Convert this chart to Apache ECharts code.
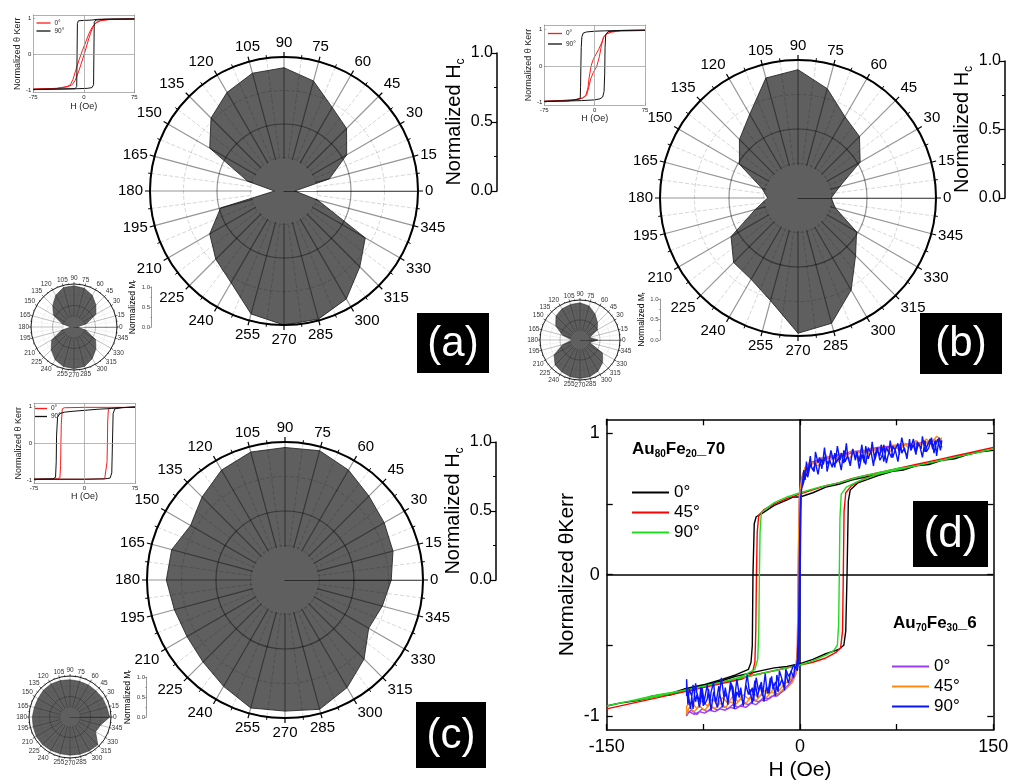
<!DOCTYPE html>
<html>
<head>
<meta charset="utf-8">
<script src="https://cdn.jsdelivr.net/npm/echarts@6/dist/echarts.min.js"></script>
<style>html,body{margin:0;padding:0;background:#fff}#chart{width:1020px;height:784px}</style>
</head>
<body>
<div id="chart"></div>
<script>
const FONT = 'Liberation Sans, Arial, sans-serif';

// ---- angular coercivity / remanence maps ----
const angles = [0,15,30,45,60,75,90,105,120,135,150,165,180,195,210,225,240,255,270,285,300,315,330,345];
const hcA = [0.08,0.35,0.54,0.66,0.72,0.85,0.92,0.91,0.85,0.77,0.64,0.28,0.07,0.49,0.64,0.72,0.79,0.95,1.00,0.99,0.93,0.80,0.70,0.26];
const hcB = [0.24,0.31,0.52,0.63,0.68,0.82,0.93,0.90,0.70,0.60,0.49,0.27,0.22,0.32,0.56,0.66,0.68,0.77,0.98,0.94,0.77,0.59,0.49,0.28];
const hcC = [0.77,0.81,0.83,0.86,0.92,0.97,0.96,0.96,0.92,0.85,0.79,0.85,0.86,0.83,0.82,0.84,0.89,0.96,0.95,0.97,0.90,0.81,0.70,0.73];
const mrA = [0.08,0.30,0.59,0.72,0.85,0.93,0.96,0.95,0.85,0.70,0.55,0.28,0.08,0.30,0.60,0.75,0.88,0.95,0.97,0.95,0.85,0.72,0.58,0.28];
const mrB = [0.45,0.25,0.50,0.62,0.75,0.88,0.93,0.92,0.90,0.85,0.70,0.45,0.20,0.45,0.75,0.88,0.92,0.95,0.96,0.95,0.90,0.80,0.65,0.25];
const mrC = [0.97,0.93,0.92,0.90,0.90,0.90,0.91,0.92,0.93,0.92,0.90,0.90,0.92,0.93,0.95,0.95,0.94,0.93,0.93,0.94,0.95,0.96,0.72,0.77];
const barTicks = [0, 0.5, 1];

// ---- small Kerr loops (H in Oe, normalized Kerr rotation) ----
const loopA0down = [[75,0.97],[50,0.96],[35,0.95],[25,0.92],[18,0.86],[13,0.76],[8,0.58],[3,0.34],[-2,0.1],[-7,-0.16],[-12,-0.45],[-16,-0.7],[-20,-0.85],[-25,-0.9],[-40,-0.95],[-75,-0.97]];
const loopA0up = [[-75,-0.97],[-40,-0.95],[-25,-0.91],[-18,-0.86],[-13,-0.74],[-8,-0.5],[-3,-0.22],[2,0.08],[6,0.34],[10,0.58],[14,0.76],[18,0.87],[25,0.93],[40,0.96],[75,0.97]];
const loopA90down = [[75,0.97],[40,0.97],[20,0.96],[12,0.94],[0,0.93],[-8,0.92],[-9.5,0.85],[-10,0],[-10.5,-0.9],[-13,-0.96],[-40,-0.97],[-75,-0.98]];
const loopA90up = [[-75,-0.98],[-40,-0.97],[-10,-0.96],[5,-0.95],[12,-0.93],[14.5,-0.85],[15,0],[15.5,0.88],[18,0.94],[30,0.96],[75,0.97]];

const loopB0down = [[75,0.97],[40,0.96],[25,0.93],[18,0.88],[14,0.8],[10,0.62],[6,0.45],[2,0.32],[-2,0.18],[-5,0.02],[-8,-0.3],[-10,-0.6],[-13,-0.8],[-18,-0.88],[-30,-0.93],[-75,-0.97]];
const loopB0up = [[-75,-0.97],[-30,-0.93],[-18,-0.88],[-12,-0.8],[-9,-0.6],[-6,-0.36],[-2,-0.18],[3,-0.02],[7,0.25],[10,0.55],[13,0.78],[17,0.87],[25,0.93],[40,0.96],[75,0.97]];
const loopB90down = [[75,0.98],[40,0.97],[15,0.96],[0,0.95],[-12,0.93],[-17,0.9],[-19,0.8],[-20,0.5],[-20.5,0],[-21,-0.6],[-21.5,-0.9],[-24,-0.95],[-40,-0.96],[-75,-0.97]];
const loopB90up = [[-75,-0.97],[-40,-0.96],[-20,-0.95],[0,-0.93],[8,-0.9],[12,-0.85],[14,-0.7],[15,-0.2],[15.5,0.5],[16.5,0.85],[20,0.94],[35,0.97],[75,0.98]];

const loopC0down = [[75,0.97],[0,0.97],[-30,0.96],[-33,0.93],[-34.5,0.5],[-35,0],[-35.5,-0.6],[-36.5,-0.93],[-40,-0.96],[-75,-0.97]];
const loopC0up = [[-75,-0.97],[0,-0.97],[30,-0.96],[32.5,-0.92],[33.5,-0.5],[34,0],[34.5,0.6],[35.5,0.92],[40,0.96],[75,0.97]];
const loopC90down = [[75,0.98],[50,0.96],[40,0.94],[20,0.92],[0,0.89],[-20,0.86],[-30,0.84],[-37,0.8],[-40,0.7],[-41.5,0.2],[-42,-0.5],[-43,-0.92],[-47,-0.96],[-75,-0.97]];
const loopC90up = [[-75,-0.97],[0,-0.97],[30,-0.96],[38,-0.94],[40.5,-0.8],[41.5,0],[42.5,0.8],[45,0.93],[55,0.96],[75,0.98]];

// ---- panel (d): Au80Fe20_70 loops ----
const k0down = [[150,0.88],[140,0.87],[130,0.85],[120,0.82],[110,0.81],[100,0.78],[90,0.77],[80,0.74],[70,0.73],[60,0.71],[50,0.69],[40,0.67],[30,0.64],[20,0.62],[10,0.58],[0,0.55],[-5,0.55],[-10,0.53],[-20,0.49],[-30,0.43],[-34,0.41],[-35.5,0.36],[-36.5,0],[-37,-0.5],[-38,-0.62],[-40,-0.67],[-50,-0.71],[-60,-0.74],[-75,-0.78],[-90,-0.81],[-100,-0.84],[-115,-0.86],[-125,-0.89],[-140,-0.91],[-150,-0.93]];
const k0up = [[-150,-0.93],[-140,-0.91],[-125,-0.89],[-110,-0.86],[-100,-0.85],[-85,-0.81],[-75,-0.79],[-60,-0.75],[-50,-0.72],[-40,-0.7],[-30,-0.68],[-20,-0.66],[-10,-0.65],[0,-0.63],[10,-0.6],[20,-0.56],[30,-0.53],[34,-0.5],[35.5,-0.4],[36.5,0],[37.5,0.52],[39,0.6],[45,0.65],[60,0.7],[75,0.74],[90,0.77],[100,0.79],[115,0.82],[125,0.84],[140,0.87],[150,0.88]];
const k45down = [[150,0.9],[140,0.88],[130,0.86],[120,0.84],[110,0.82],[100,0.8],[90,0.78],[80,0.76],[70,0.74],[60,0.72],[50,0.7],[40,0.68],[30,0.65],[20,0.63],[10,0.6],[0,0.57],[-10,0.54],[-20,0.5],[-28,0.46],[-32,0.42],[-33.2,0.3],[-33.8,0],[-34.3,-0.4],[-35,-0.62],[-37,-0.7],[-45,-0.74],[-60,-0.77],[-75,-0.8],[-90,-0.83],[-105,-0.86],[-120,-0.89],[-135,-0.92],[-150,-0.95]];
const k45up = [[-150,-0.95],[-135,-0.92],[-120,-0.89],[-105,-0.86],[-90,-0.83],[-75,-0.8],[-60,-0.76],[-45,-0.73],[-30,-0.7],[-15,-0.67],[0,-0.64],[10,-0.62],[20,-0.59],[28,-0.55],[31.5,-0.52],[33,-0.4],[33.6,0],[34.2,0.45],[35.5,0.58],[40,0.63],[50,0.68],[60,0.71],[75,0.75],[90,0.78],[110,0.82],[130,0.86],[150,0.9]];
const k90down = [[150,0.89],[130,0.85],[110,0.81],[90,0.77],[75,0.75],[60,0.72],[45,0.69],[30,0.65],[15,0.62],[0,0.58],[-10,0.55],[-20,0.51],[-26,0.47],[-30,0.44],[-31,0.3],[-31.5,0],[-32,-0.4],[-32.8,-0.6],[-35,-0.67],[-45,-0.72],[-60,-0.76],[-75,-0.79],[-90,-0.82],[-105,-0.85],[-120,-0.88],[-135,-0.9],[-150,-0.93]];
const k90up = [[-150,-0.93],[-130,-0.89],[-110,-0.85],[-90,-0.82],[-70,-0.78],[-50,-0.74],[-30,-0.7],[-10,-0.66],[0,-0.64],[10,-0.61],[20,-0.57],[26,-0.54],[29,-0.5],[30,-0.35],[30.5,0],[31,0.4],[32,0.57],[36,0.62],[45,0.66],[60,0.71],[75,0.74],[90,0.77],[110,0.81],[130,0.85],[150,0.89]];

// ---- panel (d): Au70Fe30_6 loops ----
const p0up = [[-88,-0.98],[-84,-0.96],[-80,-0.99],[-76,-0.95],[-72,-0.97],[-68,-0.94],[-64,-0.96],[-60,-0.93],[-56,-0.95],[-52,-0.92],[-48,-0.94],[-44,-0.91],[-40,-0.92],[-36,-0.89],[-32,-0.9],[-28,-0.87],[-24,-0.88],[-20,-0.85],[-16,-0.84],[-12,-0.81],[-8,-0.77],[-5,-0.72],[-3,-0.66],[-2,-0.5],[-1.5,-0.1],[-1,0.3],[-0.5,0.55],[0.5,0.64],[2,0.71],[5,0.77],[10,0.8],[20,0.83],[30,0.85],[40,0.87],[50,0.88],[60,0.9],[70,0.91],[80,0.92],[90,0.93],[100,0.94],[110,0.95]];
const p0down = [[110,0.95],[100,0.94],[90,0.93],[80,0.92],[70,0.9],[60,0.89],[50,0.87],[40,0.86],[30,0.84],[20,0.82],[10,0.79],[5,0.75],[2,0.7],[1,0.64],[0,0.4],[-0.5,0],[-1,-0.4],[-1.5,-0.62],[-3,-0.7],[-6,-0.76],[-10,-0.8],[-14,-0.83],[-18,-0.86],[-22,-0.86],[-26,-0.89],[-30,-0.89],[-34,-0.92],[-38,-0.91],[-42,-0.94],[-46,-0.93],[-50,-0.95],[-54,-0.94],[-58,-0.96],[-62,-0.95],[-66,-0.97],[-70,-0.96],[-74,-0.98],[-78,-0.97],[-82,-0.99],[-86,-0.97],[-88,-1.0]];
const o45up = [[-88,-0.93],[-84,-0.9],[-80,-0.95],[-76,-0.89],[-72,-0.93],[-68,-0.88],[-64,-0.92],[-60,-0.87],[-56,-0.91],[-52,-0.86],[-48,-0.9],[-44,-0.85],[-40,-0.88],[-36,-0.84],[-32,-0.87],[-28,-0.82],[-24,-0.85],[-20,-0.8],[-16,-0.82],[-12,-0.77],[-8,-0.75],[-5,-0.7],[-3,-0.65],[-2,-0.5],[-1.5,-0.1],[-1,0.3],[-0.5,0.55],[0.5,0.63],[2,0.7],[4,0.76],[8,0.8],[12,0.78],[16,0.83],[20,0.81],[24,0.85],[28,0.82],[32,0.86],[36,0.84],[40,0.88],[44,0.85],[48,0.89],[52,0.86],[56,0.9],[60,0.87],[64,0.91],[68,0.88],[72,0.92],[76,0.89],[80,0.93],[84,0.9],[88,0.94],[92,0.91],[96,0.95],[100,0.92],[104,0.96],[108,0.94],[110,0.97]];
const o45down = [[110,0.95],[106,0.98],[102,0.93],[98,0.96],[94,0.92],[90,0.95],[86,0.9],[82,0.93],[78,0.89],[74,0.92],[70,0.87],[66,0.9],[62,0.86],[58,0.89],[54,0.85],[50,0.88],[46,0.83],[42,0.87],[38,0.82],[34,0.85],[30,0.8],[26,0.84],[22,0.79],[18,0.82],[14,0.77],[10,0.79],[6,0.74],[3,0.7],[1,0.62],[0,0.4],[-0.5,0],[-1,-0.4],[-1.5,-0.62],[-3,-0.7],[-6,-0.76],[-10,-0.8],[-14,-0.82],[-18,-0.85],[-22,-0.83],[-26,-0.87],[-30,-0.85],[-34,-0.89],[-38,-0.87],[-42,-0.91],[-46,-0.88],[-50,-0.92],[-54,-0.9],[-58,-0.94],[-62,-0.91],[-66,-0.95],[-70,-0.92],[-74,-0.96],[-78,-0.93],[-82,-0.97],[-86,-0.94],[-88,-0.99]];
const b90up = [[-88,-0.74],[-87,-0.92],[-86,-0.81],[-84,-0.86],[-83,-0.95],[-81,-0.77],[-80,-0.84],[-78,-0.9],[-77,-0.8],[-75,-0.93],[-74,-0.88],[-72,-0.78],[-70,-0.91],[-69,-0.83],[-67,-0.76],[-66,-0.89],[-64,-0.94],[-62,-0.81],[-61,-0.73],[-59,-0.87],[-57,-0.84],[-56,-0.92],[-54,-0.76],[-52,-0.8],[-51,-0.9],[-49,-0.74],[-47,-0.86],[-46,-0.82],[-44,-0.93],[-42,-0.77],[-41,-0.71],[-39,-0.85],[-37,-0.8],[-36,-0.89],[-34,-0.73],[-32,-0.83],[-31,-0.78],[-29,-0.86],[-27,-0.7],[-26,-0.79],[-24,-0.84],[-22,-0.72],[-21,-0.81],[-19,-0.76],[-17,-0.83],[-16,-0.68],[-14,-0.74],[-12,-0.79],[-11,-0.67],[-9,-0.72],[-7,-0.69],[-5,-0.64],[-3,-0.66],[-2,-0.6],[-1,-0.3],[-0.5,0.1],[0,0.4],[0.5,0.55],[1.5,0.62],[3,0.74],[4,0.67],[5,0.8],[6,0.71],[8,0.84],[9,0.76],[11,0.73],[12,0.87],[14,0.79],[15,0.83],[17,0.75],[19,0.9],[20,0.82],[22,0.78],[24,0.88],[25,0.84],[27,0.76],[29,0.91],[31,0.81],[32,0.86],[34,0.79],[36,0.93],[37,0.84],[39,0.77],[41,0.89],[43,0.82],[44,0.87],[46,0.8],[48,0.92],[49,0.85],[51,0.78],[53,0.9],[55,0.86],[56,0.94],[58,0.81],[60,0.88],[62,0.84],[63,0.92],[65,0.8],[67,0.9],[69,0.86],[70,0.95],[72,0.83],[74,0.89],[76,0.93],[77,0.85],[79,0.97],[81,0.88],[83,0.84],[85,0.94],[86,0.9],[88,0.96],[90,0.86],[92,0.93],[94,0.89],[95,0.98],[97,0.87],[99,0.92],[101,0.96],[103,0.89],[105,0.95],[106,0.84],[108,0.97],[110,0.9]];
const b90down = [[110,0.95],[109,0.88],[107,0.96],[105,0.91],[104,0.86],[102,0.97],[100,0.9],[98,0.87],[97,0.95],[95,0.83],[93,0.91],[91,0.94],[90,0.85],[88,0.92],[86,0.88],[85,0.96],[83,0.82],[81,0.9],[79,0.86],[78,0.93],[76,0.8],[74,0.88],[72,0.91],[71,0.83],[69,0.87],[67,0.79],[65,0.92],[64,0.85],[62,0.81],[60,0.9],[58,0.84],[57,0.77],[55,0.88],[53,0.82],[51,0.91],[50,0.79],[48,0.85],[46,0.75],[44,0.87],[43,0.81],[41,0.89],[39,0.78],[37,0.84],[35,0.8],[34,0.88],[32,0.74],[30,0.83],[28,0.79],[27,0.86],[25,0.76],[23,0.81],[21,0.73],[20,0.85],[18,0.78],[16,0.82],[14,0.71],[12,0.79],[10,0.74],[8,0.78],[6,0.69],[4,0.73],[3,0.66],[2,0.63],[1,0.6],[0.5,0.3],[0,-0.1],[-0.5,-0.45],[-1,-0.6],[-2,-0.68],[-4,-0.65],[-5,-0.73],[-7,-0.68],[-9,-0.77],[-11,-0.7],[-12,-0.82],[-14,-0.74],[-16,-0.79],[-18,-0.71],[-19,-0.86],[-21,-0.77],[-23,-0.73],[-25,-0.84],[-26,-0.79],[-28,-0.9],[-30,-0.76],[-32,-0.82],[-33,-0.87],[-35,-0.75],[-37,-0.91],[-39,-0.81],[-40,-0.85],[-42,-0.78],[-44,-0.93],[-46,-0.8],[-47,-0.87],[-49,-0.83],[-51,-0.95],[-53,-0.78],[-55,-0.84],[-56,-0.91],[-58,-0.8],[-60,-0.94],[-62,-0.86],[-63,-0.79],[-65,-0.9],[-67,-0.83],[-69,-0.96],[-71,-0.81],[-72,-0.88],[-74,-0.92],[-76,-0.8],[-78,-0.94],[-80,-0.85],[-81,-0.9],[-83,-0.78],[-85,-0.95],[-87,-0.83],[-88,-0.86]];

const labelOf = {
  ia0:'0°', ia90:'90°', ib0:'0°', ib90:'90°', ic0:'0°', ic90:'90°',
  d1k0:'0°', d1k45:'45°', d1k90:'90°', d2p0:'0°', d2o45:'45°', d2b90:'90°'
};

const polars = [], angleAxes = [], radiusAxes = [], grids = [], xAxes = [], yAxes = [], legends = [], graphics = [], series = [];

// Polar panel: one polar for the filled shape, rings and outer scale; a second ring-shaped polar for the spokes
function addPolar(cx, cy, R, values, big) {
  const pi = polars.length;
  polars.push({center: [cx, cy], radius: R});
  angleAxes.push({
    polarIndex: pi, type: 'value', min: 0, max: 360, interval: 15, startAngle: 0, clockwise: false, z: 5,
    axisLine: {lineStyle: {color: '#000', width: big ? 2 : 0.8}},
    axisTick: {show: true, length: big ? 5 : 2, lineStyle: {color: '#000', width: big ? 1.2 : 0.6}},
    minorTick: {show: true, splitNumber: 2, length: big ? 3 : 1.2, lineStyle: {color: '#000', width: big ? 1 : 0.5}},
    axisLabel: {fontFamily: FONT, fontSize: big ? 15 : 6.5, color: big ? '#000' : '#333', margin: big ? 7 : 2,
      formatter: v => (v === 360 ? '' : String(v))},
    splitLine: {show: false}, minorSplitLine: {show: false}
  });
  radiusAxes.push({
    polarIndex: pi, type: 'value', min: 0, max: 1, interval: 0.5, z: 5,
    axisLine: {show: true, lineStyle: {color: 'rgba(0,0,0,0.55)', width: big ? 1.2 : 0.6}},
    axisTick: {show: false}, axisLabel: {show: false},
    splitLine: {show: true, lineStyle: {color: 'rgba(0,0,0,0.42)', width: big ? 1.2 : 0.6}},
    minorTick: {show: false, splitNumber: 2},
    minorSplitLine: {show: true, lineStyle: {color: 'rgba(0,0,0,0.16)', type: 'dashed', width: big ? 1 : 0.5}}
  });
  const si = polars.length;
  polars.push({center: [cx, cy], radius: [R * 0.24, R]});
  angleAxes.push({
    polarIndex: si, type: 'value', min: 0, max: 360, interval: 15, startAngle: 0, clockwise: false, z: 5,
    axisLine: {show: false}, axisTick: {show: false}, axisLabel: {show: false},
    splitLine: {show: true, lineStyle: {color: 'rgba(0,0,0,0.42)', width: big ? 1.2 : 0.6}},
    minorTick: {show: false, splitNumber: 2},
    minorSplitLine: {show: true, lineStyle: {color: 'rgba(0,0,0,0.16)', type: 'dashed', width: big ? 1 : 0.5}}
  });
  radiusAxes.push({polarIndex: si, type: 'value', min: 0, max: 1, show: false});
  const pts = values.map((v, i) => [v, angles[i]]);
  pts.push([values[0], 360]);
  series.push({
    type: 'line', coordinateSystem: 'polar', polarIndex: pi, data: pts, symbol: 'none', silent: true, z: 2,
    lineStyle: {color: '#2a2a2a', width: big ? 0.9 : 0.5},
    areaStyle: {color: '#5f5f5f', opacity: 1}
  });
}

// Vertical 0–1 scale beside each polar panel
function addBar(x, yTop, yBottom, big, main, sub, gap) {
  const gi = grids.length;
  grids.push({left: x, top: yTop, width: 1, height: yBottom - yTop});
  xAxes.push({gridIndex: gi, type: 'value', show: false});
  const col = big ? '#000' : '#555';
  yAxes.push({
    gridIndex: gi, type: 'value', min: 0, max: 1, interval: 0.5, position: 'left',
    axisLine: {show: true, lineStyle: {color: col, width: big ? 1.5 : 0.6}},
    axisTick: {show: true, length: big ? 5 : 2, lineStyle: {color: col, width: big ? 1.2 : 0.5}},
    minorTick: {show: true, splitNumber: 2, length: big ? 3 : 1.2, lineStyle: {color: col, width: big ? 1 : 0.5}},
    axisLabel: {fontFamily: FONT, fontSize: big ? 16 : 6, color: big ? '#000' : '#444', margin: big ? 4 : 1.5,
      customValues: barTicks, formatter: v => v.toFixed(1)},
    splitLine: {show: false},
    name: '{n|' + main + '}{s|' + sub + '}', nameLocation: 'middle', nameRotate: 90, nameGap: gap,
    nameTextStyle: {rich: {
      n: {fontFamily: FONT, fontSize: big ? 20 : 8.5, color: '#000', lineHeight: big ? 24 : 10},
      s: {fontFamily: FONT, fontSize: big ? 12 : 5.5, color: '#000', lineHeight: big ? 12 : 5.5, verticalAlign: 'bottom'}
    }}
  });
}

// Small Kerr-loop inset with its own legend
function addInset(box, yMin, yMax, loops, leg) {
  const gi = grids.length;
  grids.push({left: box.l, top: box.t, width: box.w, height: box.h});
  const gcol = '#8c8c8c';
  const xi = xAxes.length;
  xAxes.push({gridIndex: gi, type: 'value', min: -75, max: 75, interval: 75, position: 'bottom',
    axisLine: {onZero: false, lineStyle: {color: gcol, width: 0.7}},
    axisTick: {inside: true, length: 2, lineStyle: {color: gcol, width: 0.6}},
    axisLabel: {fontFamily: FONT, fontSize: 6, color: '#222', margin: 2},
    splitLine: {show: false},
    name: 'H (Oe)', nameLocation: 'middle', nameGap: box.xGap,
    nameTextStyle: {fontFamily: FONT, fontSize: 9, color: '#222'}});
  xAxes.push({gridIndex: gi, type: 'value', min: -75, max: 75, interval: 75, position: 'top',
    axisLine: {onZero: false, lineStyle: {color: gcol, width: 0.7}},
    axisTick: {show: false}, axisLabel: {show: false}, splitLine: {show: false}});
  const yi = yAxes.length;
  yAxes.push({gridIndex: gi, type: 'value', min: yMin, max: yMax, position: 'left',
    axisLine: {onZero: false, lineStyle: {color: gcol, width: 0.7}},
    axisTick: {inside: true, length: 2, customValues: [-1, 0, 1], lineStyle: {color: gcol, width: 0.6}},
    axisLabel: {fontFamily: FONT, fontSize: 6, color: '#222', margin: 2, customValues: [-1, 0, 1]},
    splitLine: {show: false},
    name: 'Normalized θ Kerr', nameLocation: 'middle', nameGap: 1,
    nameTextStyle: {fontFamily: FONT, fontSize: 9, color: '#222'}});
  yAxes.push({gridIndex: gi, type: 'value', min: yMin, max: yMax, position: 'right',
    axisLine: {onZero: false, lineStyle: {color: gcol, width: 0.7}},
    axisTick: {show: false}, axisLabel: {show: false}, splitLine: {show: false}});
  loops.forEach((lp, k) => {
    series.push({
      type: 'line', name: lp.name, xAxisIndex: xi, yAxisIndex: yi, data: lp.down.concat(lp.up),
      symbol: 'none', color: lp.color, itemStyle: {color: lp.color}, lineStyle: {color: lp.color, width: 1}, z: 3 + k,
      markLine: k === 0 ? {silent: true, symbol: 'none', label: {show: false}, animation: false,
        lineStyle: {color: '#9a9a9a', width: 0.7, type: 'solid'}, data: [{xAxis: 0}, {yAxis: 0}]} : undefined
    });
  });
  legends.push({
    left: leg.l, top: leg.t, orient: 'vertical', padding: 0, itemGap: leg.gap, icon: 'rect',
    itemWidth: leg.w, itemHeight: 1.3, data: loops.map(lp => lp.name), selectedMode: false,
    formatter: n => labelOf[n],
    textStyle: {fontFamily: FONT, fontSize: 6.5, color: '#222', lineHeight: 6.5, padding: [0, 0, 0, -1]}
  });
}

function addTag(x, y, w, h, txt, fs) {
  graphics.push({type: 'rect', shape: {x: x, y: y, width: w, height: h}, style: {fill: '#000'}, z: 20});
  graphics.push({type: 'text', x: x + w / 2, y: y + h / 2 + 1, z: 21,
    style: {text: txt, fill: '#fff', fontFamily: FONT, fontSize: fs, align: 'center', verticalAlign: 'middle'}});
}

// ---------- panels (a), (b), (c) ----------
addPolar(284, 191, 134, hcA, true);
addPolar(798, 198, 138, hcB, true);
addPolar(285, 580, 138, hcC, true);
addPolar(74, 327, 43, mrA, false);
addPolar(580, 340, 40, mrB, false);
addPolar(70, 717, 41, mrC, false);

addBar(497, 53, 191, true, 'Normalized H', 'c', 28);
addBar(1005, 61, 198, true, 'Normalized H', 'c', 28);
addBar(496, 442, 580, true, 'Normalized H', 'c', 28);
addBar(151.5, 287, 327, false, 'Normalized M', 'r', 10);
addBar(660, 299, 340, false, 'Normalized M', 'r', 10);
addBar(146.5, 677, 717, false, 'Normalized M', 'r', 10);

addInset({l: 33.3, t: 15, w: 101, h: 77.7, xGap: 9}, -1.07, 1.08,
  [{name: 'ia0', color: '#ff1a1a', down: loopA0down, up: loopA0up},
   {name: 'ia90', color: '#111', down: loopA90down, up: loopA90up}],
  {l: 36.5, t: 19.5, w: 14, gap: 1});
addInset({l: 544.3, t: 25, w: 100.7, h: 80, xGap: 9}, -1.07, 1.12,
  [{name: 'ib0', color: '#ff1a1a', down: loopB0down, up: loopB0up},
   {name: 'ib90', color: '#111', down: loopB90down, up: loopB90up}],
  {l: 548, t: 30, w: 14, gap: 3.5});
addInset({l: 34, t: 403.3, w: 101, h: 80, xGap: 8}, -1.08, 1.08,
  [{name: 'ic0', color: '#ff1a1a', down: loopC0down, up: loopC0up},
   {name: 'ic90', color: '#111', down: loopC90down, up: loopC90up}],
  {l: 35, t: 405, w: 12, gap: 1});

addTag(417, 313, 72, 60, '(a)', 42);
addTag(920, 313, 82, 61, '(b)', 42);
addTag(416, 702, 70, 66, '(c)', 42);
addTag(913, 501, 75, 66, '(d)', 44);

// ---------- panel (d) ----------
const dg = grids.length;
grids.push({left: 606.7, top: 419.3, width: 386.6, height: 310.7});
const dx = xAxes.length;
xAxes.push({gridIndex: dg, type: 'value', min: -150, max: 150, interval: 75, position: 'bottom',
  axisLine: {onZero: false, lineStyle: {color: '#000', width: 1.5}},
  axisTick: {inside: true, length: 6, lineStyle: {color: '#000', width: 1.3}},
  axisLabel: {fontFamily: FONT, fontSize: 18, color: '#000', margin: 8,
    formatter: v => (Math.abs(v) === 75 ? '' : String(v))},
  splitLine: {show: false},
  name: 'H (Oe)', nameLocation: 'middle', nameGap: 30,
  nameTextStyle: {fontFamily: FONT, fontSize: 21, color: '#000'}});
xAxes.push({gridIndex: dg, type: 'value', min: -150, max: 150, interval: 75, position: 'top',
  axisLine: {onZero: false, lineStyle: {color: '#000', width: 1.5}},
  axisTick: {inside: true, length: 6, lineStyle: {color: '#000', width: 1.3}},
  axisLabel: {show: false}, splitLine: {show: false}});
const dy = yAxes.length;
yAxes.push({gridIndex: dg, type: 'value', min: -1.1, max: 1.1, position: 'left',
  axisLine: {onZero: false, lineStyle: {color: '#000', width: 1.5}},
  axisTick: {inside: true, length: 6, customValues: [-1, -0.5, 0, 0.5, 1], lineStyle: {color: '#000', width: 1.3}},
  axisLabel: {fontFamily: FONT, fontSize: 18, color: '#000', margin: 7, customValues: [-1, 0, 1]},
  splitLine: {show: false},
  name: 'Normalized θKerr', nameLocation: 'middle', nameGap: 29,
  nameTextStyle: {fontFamily: FONT, fontSize: 21, color: '#000'}});
yAxes.push({gridIndex: dg, type: 'value', min: -1.1, max: 1.1, position: 'right',
  axisLine: {onZero: false, lineStyle: {color: '#000', width: 1.5}},
  axisTick: {inside: true, length: 6, customValues: [-1, -0.5, 0, 0.5, 1], lineStyle: {color: '#000', width: 1.3}},
  axisLabel: {show: false}, splitLine: {show: false}});

const dLoops = [
  {name: 'd1k0', color: '#000000', down: k0down, up: k0up},
  {name: 'd1k45', color: '#ff0000', down: k45down, up: k45up},
  {name: 'd1k90', color: '#1fdc1f', down: k90down, up: k90up},
  {name: 'd2p0', color: '#9b3cf2', down: p0down, up: p0up},
  {name: 'd2o45', color: '#ff8a12', down: o45down, up: o45up},
  {name: 'd2b90', color: '#0a14ff', down: b90down, up: b90up}
];
dLoops.forEach((lp, k) => {
  series.push({
    type: 'line', name: lp.name, xAxisIndex: dx, yAxisIndex: dy, data: lp.down.concat(lp.up),
    symbol: 'none', color: lp.color, itemStyle: {color: lp.color}, lineStyle: {color: lp.color, width: 1.4}, z: 3 + k,
    markLine: k === 0 ? {silent: true, symbol: 'none', label: {show: false}, animation: false,
      lineStyle: {color: '#000', width: 1.5, type: 'solid'}, data: [{xAxis: 0}, {yAxis: 0}]} : undefined
  });
});
legends.push({
  left: 632, top: 483.5, orient: 'vertical', padding: 0, itemGap: 2, icon: 'rect', itemWidth: 37, itemHeight: 2.2,
  data: ['d1k0', 'd1k45', 'd1k90'], selectedMode: false, formatter: n => labelOf[n],
  textStyle: {fontFamily: FONT, fontSize: 17, color: '#000', lineHeight: 18}
});
legends.push({
  left: 892, top: 657.5, orient: 'vertical', padding: 0, itemGap: 2, icon: 'rect', itemWidth: 37, itemHeight: 2.2,
  data: ['d2p0', 'd2o45', 'd2b90'], selectedMode: false, formatter: n => labelOf[n],
  textStyle: {fontFamily: FONT, fontSize: 17, color: '#000', lineHeight: 18}
});
const titleRich = {
  b: {fontFamily: FONT, fontSize: 17, fontWeight: 'bold', color: '#000', lineHeight: 20},
  s: {fontFamily: FONT, fontSize: 10, fontWeight: 'bold', color: '#000', lineHeight: 10, verticalAlign: 'bottom'}
};
graphics.push({type: 'text', x: 632, y: 449, z: 20,
  style: {text: '{b|Au}{s|80}{b|Fe}{s|20}{b|_70}', rich: titleRich, align: 'left', verticalAlign: 'middle'}});
graphics.push({type: 'text', x: 893, y: 623, z: 20,
  style: {text: '{b|Au}{s|70}{b|Fe}{s|30}{b|_6}', rich: titleRich, align: 'left', verticalAlign: 'middle'}});

const chart = echarts.init(document.getElementById('chart'), null, {renderer: 'canvas'});
chart.setOption({
  animation: false,
  backgroundColor: '#fff',
  polar: polars, angleAxis: angleAxes, radiusAxis: radiusAxes,
  grid: grids, xAxis: xAxes, yAxis: yAxes,
  legend: legends, graphic: graphics, series: series
});
</script>
</body>
</html>
